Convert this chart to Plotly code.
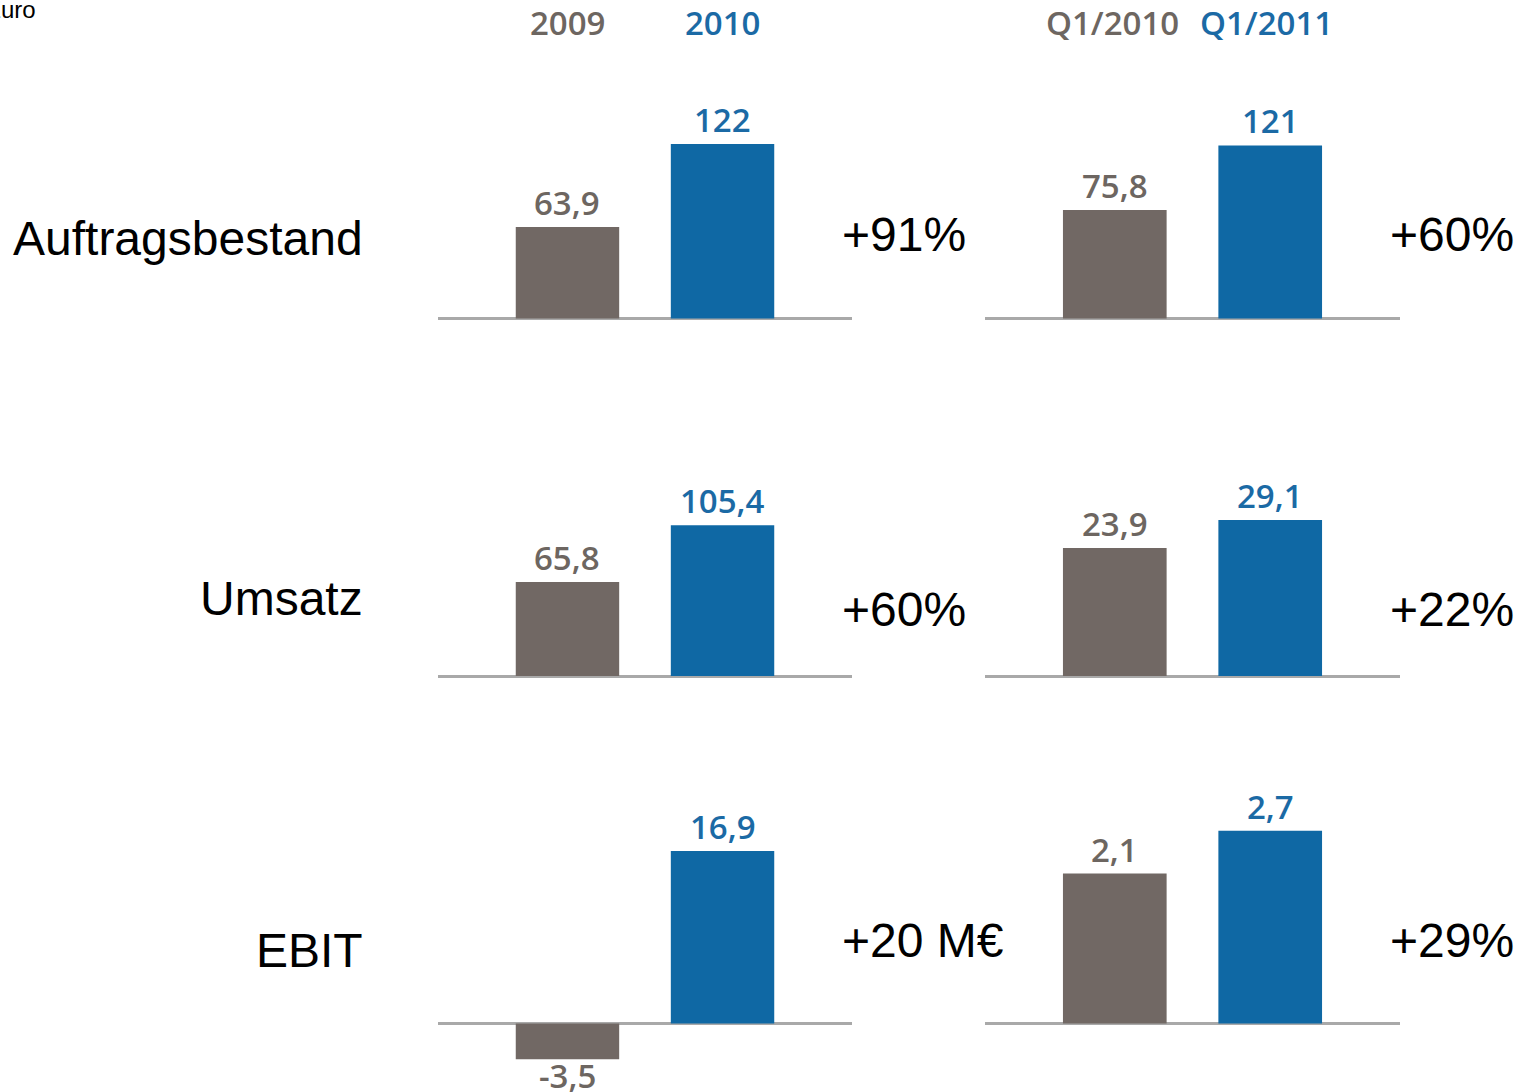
import plotly.graph_objects as go

# ---- data -------------------------------------------------------------
metrics = ["Auftragsbestand", "Umsatz", "EBIT"]
annual_periods = ["2009", "2010"]
quarter_periods = ["Q1/2010", "Q1/2011"]

annual_prev = [63.9, 65.8, -3.5]
annual_curr = [122, 105.4, 16.9]
quarter_prev = [75.8, 23.9, 2.1]
quarter_curr = [121, 29.1, 2.7]

annual_change = ["+91%", "+60%", "+20 M€"]
quarter_change = ["+60%", "+22%", "+29%"]

unit_label = "Mio. Euro"

# ---- styling ----------------------------------------------------------
W, H = 1532, 1092
GRAY = "#716864"
BLUE = "#0f68a4"
GRAY_TXT = "#6d6661"
BLUE_TXT = "#1b6aa5"
LINE = "#a9a9a9"
NUM_FONT = "Open Sans"
LBL_FONT = "Liberation Sans, Arial, sans-serif"
NUM_SIZE = 33
LBL_SIZE = 48

# pixel layout of the panels: (left, right) of each column,
# (top, bottom, baseline) of each row, and px per unit for every panel
col_px = [(438, 852), (985, 1400)]
row_px = [(70, 340, 318.5), (430, 700, 676), (760, 1088, 1023.5)]
px_per_unit = [[1.43, 1.43], [1.43, 5.36], [10.2, 71.4]]
x_range = [-0.835, 1.835]


def fmt(v):
    return f"{v:g}".replace(".", ",")


def px_x(p):
    return p / W


def px_y(p):
    return 1 - p / H


fig = go.Figure()
layout = dict(
    width=W, height=H, margin=dict(l=0, r=0, t=0, b=0),
    paper_bgcolor="white", plot_bgcolor="white",
    showlegend=False, annotations=[],
)

panel = 0
for r in range(3):
    top, bottom, base = row_px[r]
    for c in range(2):
        panel += 1
        sfx = "" if panel == 1 else str(panel)
        cats = annual_periods if c == 0 else quarter_periods
        vals = [annual_prev[r], annual_curr[r]] if c == 0 else [quarter_prev[r], quarter_curr[r]]
        fig.add_trace(go.Bar(
            x=cats, y=vals,
            xaxis="x" + sfx, yaxis="y" + sfx,
            width=0.667,
            marker=dict(color=[GRAY, BLUE], line=dict(width=0)),
            cliponaxis=False,
            hoverinfo="skip",
        ))
        # value labels sit just above (or below, for negatives) each bar
        for i, v in enumerate(vals):
            layout["annotations"].append(dict(
                x=i, xref="x" + sfx, y=v, yref="y" + sfx,
                text=fmt(v), showarrow=False, xanchor="center",
                yanchor="bottom" if v >= 0 else "top",
                yshift=0 if v >= 0 else 8,
                font=dict(family=NUM_FONT, size=NUM_SIZE, weight=600,
                          color=GRAY_TXT if i == 0 else BLUE_TXT),
            ))
        s = px_per_unit[r][c]
        left, right = col_px[c]
        layout["xaxis" + sfx] = dict(
            domain=[px_x(left), px_x(right)], type="category",
            categoryorder="array", categoryarray=cats,
            range=x_range, anchor="y" + sfx,
            showticklabels=False, showgrid=False, zeroline=False,
            showline=False, ticks="", fixedrange=True,
        )
        layout["yaxis" + sfx] = dict(
            domain=[px_y(bottom), px_y(top)], anchor="x" + sfx,
            range=[-(bottom - base) / s, (base - top) / s],
            showticklabels=False, showgrid=False, showline=False, ticks="",
            zeroline=True, zerolinecolor=LINE, zerolinewidth=2.5,
            fixedrange=True,
        )

# column headers
header_shift = [[0, 0], [-2, -4]]
for c, cats in enumerate([annual_periods, quarter_periods]):
    xref = "x" if c == 0 else "x2"
    for i, cat in enumerate(cats):
        layout["annotations"].append(dict(
            x=i, xref=xref, y=px_y(22), yref="paper", xshift=header_shift[c][i],
            text=cat, showarrow=False, xanchor="center", yanchor="middle",
            font=dict(family=NUM_FONT, size=NUM_SIZE, weight=600,
                      color=GRAY_TXT if i == 0 else BLUE_TXT),
        ))

# row labels and change figures
label_y = [238, 598, 950]
change_y = [234, 609, 940]
for r in range(3):
    layout["annotations"].append(dict(
        x=px_x(365), xref="paper", y=px_y(label_y[r]), yref="paper",
        text=metrics[r], showarrow=False, xanchor="right", yanchor="middle",
        font=dict(family=LBL_FONT, size=LBL_SIZE, color="black"),
    ))
    layout["annotations"].append(dict(
        x=px_x(840), xref="paper", y=px_y(change_y[r]), yref="paper",
        text=annual_change[r], showarrow=False, xanchor="left", yanchor="middle",
        font=dict(family=LBL_FONT, size=LBL_SIZE, color="black"),
    ))
    layout["annotations"].append(dict(
        x=px_x(1388), xref="paper", y=px_y(change_y[r]), yref="paper",
        text=quarter_change[r], showarrow=False, xanchor="left", yanchor="middle",
        font=dict(family=LBL_FONT, size=LBL_SIZE, color="black"),
    ))

# unit note in the top-left corner
layout["annotations"].append(dict(
    x=px_x(38), xref="paper", y=px_y(10), yref="paper",
    text=unit_label, showarrow=False, xanchor="right", yanchor="middle",
    font=dict(family=LBL_FONT, size=24, color="black"),
))

fig.update_layout(**layout)
fig.write_html("out.html")
